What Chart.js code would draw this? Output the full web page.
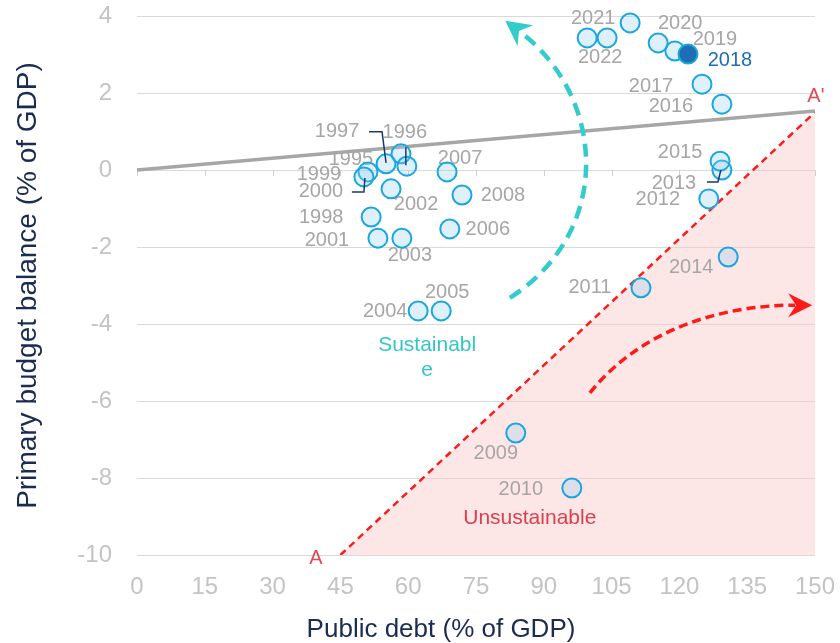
<!DOCTYPE html>
<html>
<head>
<meta charset="utf-8">
<script src="https://cdn.jsdelivr.net/npm/chart.js@4.4.1/dist/chart.umd.min.js"></script>
<style>
  html, body { margin: 0; padding: 0; background: #fff; }
  #contenedor { width: 840px; height: 643px; }
</style>
</head>
<body>
<div id="contenedor"><canvas id="grafico" width="840" height="643"></canvas></div>
<script>
// Datos: deuda publica (x) y saldo primario (y), por año
const etiquetas = ['1995','1996','1997','1998','1999','2000','2001','2002','2003','2004',
                   '2005','2006','2007','2008','2009','2010','2011','2012','2013','2014',
                   '2015','2016','2017','2018','2019','2020','2021','2022',''];
const deuda = [58.4, 59.7, 55.1, 51.8, 51.1, 50.2, 53.3, 56.2, 58.6, 62.2,
               67.3, 69.2, 68.6, 71.9, 83.8, 96.2, 111.5, 126.5, 129.4, 130.8,
               129.0, 129.4, 125.0, 121.9, 119.0, 115.3, 109.1, 99.6, 104.0];
const saldo = [0.42, 0.10, 0.16, -1.22, -0.05, -0.18, -1.77, -0.49, -1.77, -3.66,
               -3.66, -1.53, -0.05, -0.65, -6.83, -8.26, -3.06, -0.75, 0.0, -2.26,
               0.23, 1.71, 2.23, 3.01, 3.09, 3.30, 3.82, 3.43, 3.43];
const destacado = '2018';

// recta gris (saldo que estabiliza la deuda) y frontera A - A'
const rectaX = [0, 150];
const rectaY = [0, 1.53];
const fronteraX = [45, 150];
const fronteraY = [-10, 1.5];

const xTicks = [0, 15, 30, 45, 60, 75, 90, 105, 120, 135, 150];
const yTicks = [-10, -8, -6, -4, -2, 0, 2, 4];

// posicion de cada etiqueta respecto a su punto (px)
const offsets = [[-50,6],[-2,-34],[-49,-32],[-50,1],[-49,3],[-43,15],[-51,2],[25,16],[8,17],[-33,1],
                 [6,-18],[38,1],[13,-13],[41,0],[-20,21],[-51,1],[-51,0],[-51,1],[-48,13],[-37,10],
                 [-40,-9],[-51,2],[-51,2],[42,6],[40,-12],[22,-19],[-37,-4],[13,20],[0,0]];
// lineas guia de algunas etiquetas (px respecto al punto)
const guias = {
    '1996': [[-1,-19],[-1,-1]],
    '1997': [[-17,-32],[-4,-32],[0,-1]],
    '2000': [[-12,15],[0,15],[1,1]],
    '2013': [[-15,12],[-4,12],[-1,0]]
};

const puntos = [], puntoDestacado = [];
deuda.forEach((d, i) => {
    const p = { x: d, y: saldo[i] };
    if (etiquetas[i] === destacado) puntoDestacado.push(p); else puntos.push(p);
});

const FUENTE = '"Liberation Sans", Arial, sans-serif';
Chart.defaults.font.family = FUENTE;

function px(chart, x, y) {
    return [chart.scales.x.getPixelForValue(x), chart.scales.y.getPixelForValue(y)];
}

function punta(ctx, desde, hasta, largo, ancho, color) {
    const dx = hasta[0] - desde[0], dy = hasta[1] - desde[1];
    const l = Math.hypot(dx, dy), ux = dx / l, uy = dy / l;
    const tip = [hasta[0] + ux * 17, hasta[1] + uy * 17];
    const base = [tip[0] - ux * largo, tip[1] - uy * largo];
    const muesca = [tip[0] - ux * (largo - 8), tip[1] - uy * (largo - 8)];
    ctx.setLineDash([]);
    ctx.fillStyle = color;
    ctx.beginPath();
    ctx.moveTo(tip[0], tip[1]);
    ctx.lineTo(base[0] - uy * ancho, base[1] + ux * ancho);
    ctx.lineTo(muesca[0], muesca[1]);
    ctx.lineTo(base[0] + uy * ancho, base[1] - ux * ancho);
    ctx.closePath();
    ctx.fill();
}

const decoracion = {
    id: 'decoracion',
    beforeDatasetsDraw(chart) {
        const ctx = chart.ctx;
        ctx.save();
        // pequeñas marcas sobre la linea del cero
        ctx.strokeStyle = '#d0d0d0';
        ctx.lineWidth = 1;
        xTicks.forEach(v => {
            const [x, y] = px(chart, v, 0);
            ctx.beginPath();
            ctx.moveTo(Math.round(x) + 0.5, y);
            ctx.lineTo(Math.round(x) + 0.5, y + 6);
            ctx.stroke();
        });
        ctx.restore();
    },
    afterDatasetDraw(chart, args) {
        // etiquetas de los años: encima de la zona rosa, debajo de los puntos
        if (args.index !== 3) return;
        const ctx = chart.ctx;
        ctx.save();
        ctx.font = '20px ' + FUENTE;
        ctx.textAlign = 'center';
        ctx.textBaseline = 'middle';
        etiquetas.forEach((t, i) => {
            if (!t) return;
            const [x, y] = px(chart, deuda[i], saldo[i]);
            ctx.fillStyle = t === destacado ? '#1f6db3' : '#a6a6a6';
            ctx.fillText(t, x + offsets[i][0], y + offsets[i][1]);
        });
        ctx.restore();
    },
    afterDatasetsDraw(chart) {
        const ctx = chart.ctx;
        ctx.save();
        // guias
        ctx.strokeStyle = '#1b3a6b';
        ctx.lineWidth = 1.5;
        Object.keys(guias).forEach(t => {
            const i = etiquetas.indexOf(t);
            const [x, y] = px(chart, deuda[i], saldo[i]);
            ctx.beginPath();
            guias[t].forEach((g, k) => k ? ctx.lineTo(x + g[0], y + g[1]) : ctx.moveTo(x + g[0], y + g[1]));
            ctx.stroke();
        });

        // flecha turquesa (sostenible)
        let a = px(chart, 82.5, -3.32), b = px(chart, 105.8, -1.56), c = px(chart, 103.5, 1.95), d = px(chart, 84.5, 3.61);
        ctx.strokeStyle = '#33cccc';
        ctx.lineWidth = 4.5;
        ctx.setLineDash([13, 8]);
        ctx.beginPath();
        ctx.moveTo(a[0], a[1]);
        ctx.bezierCurveTo(b[0], b[1], c[0], c[1], d[0], d[1]);
        ctx.stroke();
        punta(ctx, c, d, 25, 13, '#33cccc');

        // flecha roja (insostenible)
        a = px(chart, 100.2, -5.79); b = px(chart, 111.3, -4.16); c = px(chart, 129.0, -3.51); d = px(chart, 145.6, -3.51);
        ctx.strokeStyle = '#ff1a1a';
        ctx.lineWidth = 3.5;
        ctx.setLineDash([9, 5]);
        ctx.beginPath();
        ctx.moveTo(a[0], a[1]);
        ctx.bezierCurveTo(b[0], b[1], c[0], c[1], d[0], d[1]);
        ctx.stroke();
        punta(ctx, c, d, 24, 12, '#ff1a1a');

        // textos
        ctx.font = '21px ' + FUENTE;
        ctx.textAlign = 'center';
        ctx.textBaseline = 'middle';
        ctx.fillStyle = '#33c6c6';
        let p = px(chart, 64.2, -4.55);
        ctx.fillText('Sustainabl', p[0], p[1]);
        p = px(chart, 64.2, -5.19);
        ctx.fillText('e', p[0], p[1]);
        ctx.fillStyle = '#d9414f';
        p = px(chart, 86.9, -9.04);
        ctx.fillText('Unsustainable', p[0], p[1]);
        ctx.font = '20px ' + FUENTE;
        ctx.fillStyle = '#e04a58';
        p = px(chart, 39.6, -10.08);
        ctx.fillText('A', p[0], p[1]);
        p = px(chart, 150.2, 1.9);
        ctx.fillText("A'", p[0], p[1]);

        // titulo del eje x (desplazado a la izquierda como en el original)
        ctx.font = '26px ' + FUENTE;
        ctx.fillStyle = '#1b2b52';
        ctx.fillText('Public debt (% of GDP)', 441, 630);
        ctx.restore();
    }
};

new Chart(document.getElementById('grafico'), {
    type: 'scatter',
    data: {
        datasets: [{
            data: puntoDestacado,
            order: -1,
            pointRadius: 9.5,
            pointBorderWidth: 2,
            pointBackgroundColor: '#1f6db3',
            pointBorderColor: '#1aa7e0',
            clip: false
        }, {
            data: puntos,
            order: 0,
            pointRadius: 9.5,
            pointBorderWidth: 2,
            pointBackgroundColor: 'rgba(145,205,242,0.3)',
            pointBorderColor: '#1aa7e0',
            clip: false
        }, {
            type: 'line',
            data: rectaX.map((v, i) => ({ x: v, y: rectaY[i] })),
            order: 1,
            borderColor: '#a6a6a6',
            borderWidth: 3.5,
            pointRadius: 0,
            fill: false
        }, {
            type: 'line',
            data: fronteraX.map((v, i) => ({ x: v, y: fronteraY[i] })),
            order: 2,
            borderColor: '#ff1a1a',
            borderWidth: 2.5,
            borderDash: [7, 5],
            pointRadius: 0,
            fill: 'start',
            backgroundColor: 'rgba(250,200,200,0.45)'
        }]
    },
    options: {
        responsive: false,
        animation: false,
        layout: { padding: { top: 16, right: 25, left: 0, bottom: 0 } },
        plugins: { legend: { display: false }, tooltip: { enabled: false } },
        scales: {
            x: {
                type: 'linear',
                min: 0,
                max: 150,
                afterBuildTicks: s => { s.ticks = xTicks.map(v => ({ value: v })); },
                afterFit: s => { s.height = 88; s.paddingLeft = 0; s.paddingRight = 0; },
                grid: { display: false, drawTicks: false },
                border: { display: false },
                ticks: { color: '#c4c4c4', font: { size: 24 }, padding: 18, autoSkip: false, maxRotation: 0 },
                title: { display: false }
            },
            y: {
                min: -10,
                max: 4,
                afterBuildTicks: s => { s.ticks = yTicks.map(v => ({ value: v })); },
                afterFit: s => { s.width = 137; s.paddingTop = 0; s.paddingBottom = 0; },
                grid: { color: '#d9d9d9', drawTicks: false },
                border: { display: false },
                ticks: { color: '#c4c4c4', font: { size: 24 }, padding: 25 },
                title: { display: true, text: 'Primary budget balance (% of GDP)', color: '#1b2b52', font: { size: 28 }, padding: { top: 11, bottom: 0 } }
            }
        }
    },
    plugins: [decoracion]
});
</script>
</body>
</html>
